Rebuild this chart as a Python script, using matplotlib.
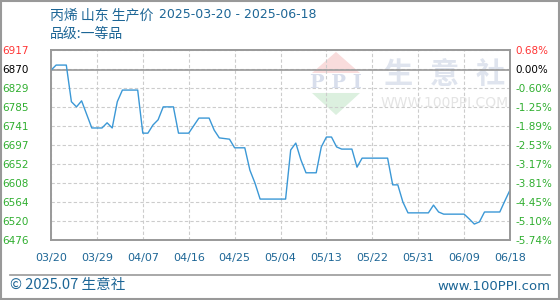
import matplotlib
matplotlib.use("Agg")
import matplotlib.pyplot as plt
from matplotlib.patches import Polygon, Rectangle
from matplotlib.lines import Line2D
import pandas as pd
import numpy as np

plt.rcParams['font.family'] = ['Noto Sans CJK SC', 'DejaVu Sans']

# price points (breakpoints of the line)
dates = ['2025-03-20', '2025-03-21', '2025-03-23', '2025-03-24', '2025-03-25', '2025-03-26',
         '2025-03-28', '2025-03-30', '2025-03-31', '2025-04-01', '2025-04-02', '2025-04-03',
         '2025-04-06', '2025-04-07', '2025-04-08', '2025-04-09', '2025-04-10', '2025-04-11',
         '2025-04-13', '2025-04-14', '2025-04-16', '2025-04-18', '2025-04-20', '2025-04-21',
         '2025-04-22', '2025-04-24', '2025-04-25', '2025-04-27', '2025-04-28', '2025-04-29',
         '2025-04-30', '2025-05-05', '2025-05-06', '2025-05-07', '2025-05-08', '2025-05-09',
         '2025-05-11', '2025-05-12', '2025-05-13', '2025-05-14', '2025-05-15', '2025-05-16',
         '2025-05-18', '2025-05-19', '2025-05-20', '2025-05-25', '2025-05-26', '2025-05-27',
         '2025-05-28', '2025-05-29', '2025-06-02', '2025-06-03', '2025-06-04', '2025-06-05',
         '2025-06-09', '2025-06-10', '2025-06-11', '2025-06-12', '2025-06-13', '2025-06-16',
         '2025-06-17', '2025-06-18']
prices = [6870, 6882, 6882, 6797, 6785, 6799,
          6736, 6736, 6748, 6736, 6797, 6824,
          6824, 6724, 6724, 6743, 6755, 6785,
          6785, 6724, 6724, 6759, 6759, 6731,
          6713, 6710, 6690, 6690, 6638, 6608,
          6571, 6571, 6685, 6701, 6662, 6632,
          6632, 6692, 6715, 6715, 6692, 6687,
          6687, 6645, 6666, 6666, 6604, 6604,
          6564, 6539, 6539, 6557, 6541, 6536,
          6536, 6525, 6513, 6518, 6541, 6541,
          6567, 6592]

base_price = 6870
y_labels = ['6917', '6870', '6829', '6785', '6741', '6697', '6652', '6608', '6564', '6520', '6476']
pct_labels = ['0.68%', '0.00%', '-0.60%', '-1.25%', '-1.89%', '-2.53%', '-3.17%',
              '-3.81%', '-4.45%', '-5.10%', '-5.74%']
x_labels = ['03/20', '03/29', '04/07', '04/16', '04/25', '05/04', '05/13', '05/22',
            '05/31', '06/09', '06/18']
x_start, x_end = '2025-03-20', '2025-06-18'
y_min, y_max = 6476, 6917

title = '丙烯 山东 生产价'
title_dates = '2025-03-20 - 2025-06-18'
subtitle = '品级:一等品'

blue = '#1d6696'
line_c = '#3b98d6'
red = '#ff3333'
green = '#2fae2f'
gray = '#999999'

fig = plt.figure(figsize=(5.6, 3.0), dpi=100)
ax = fig.add_axes([51 / 560, 60 / 300, 459 / 560, 190 / 300])

d = pd.to_datetime(dates)
ax.plot(d, prices, color=line_c, lw=1.0, zorder=3)

ax.set_xlim(pd.Timestamp(x_start), pd.Timestamp(x_end))
ax.set_ylim(y_min, y_max)

xt = pd.date_range(x_start, x_end, freq='9D')
ax.set_xticks(xt)
ax.set_xticklabels(x_labels, fontsize=8, color=blue, family='DejaVu Sans')

yt = np.linspace(y_min, y_max, len(y_labels))[::-1]
ax.set_yticks(yt)
ax.set_yticklabels(y_labels, fontsize=7.5, family='DejaVu Sans')
for i, lab in enumerate(ax.get_yticklabels()):
    lab.set_color(red if i == 0 else ('black' if i == 1 else green))
ax.tick_params(axis='y', length=0, pad=16)
ax.tick_params(axis='x', length=0, pad=9)

ax.grid(True, color='#cccccc', linestyle=(0, (3, 2)), linewidth=0.8)
ax.axhline(base_price, color=gray, lw=1.2, zorder=2)
for s in ax.spines.values():
    s.set_color(gray)
    s.set_linewidth(1.2)

ax2 = ax.twinx()
ax2.set_ylim(y_min, y_max)
ax2.set_yticks(yt)
ax2.set_yticklabels(pct_labels, fontsize=7.5, family='DejaVu Sans')
for i, lab in enumerate(ax2.get_yticklabels()):
    lab.set_color(red if i == 0 else ('black' if i == 1 else green))
ax2.tick_params(axis='y', length=0, pad=4)
for s in ax2.spines.values():
    s.set_color(gray)
    s.set_linewidth(1.2)

# watermark
ax.add_patch(Polygon([(0.5686, 0.8789), (0.6732, 0.8789), (0.6209, 0.99)], closed=True,
                     transform=ax.transAxes, color='#f9dcdc', zorder=1, lw=0))
ax.add_patch(Polygon([(0.5686, 0.7737), (0.6732, 0.7737), (0.6209, 0.6579)], closed=True,
                     transform=ax.transAxes, color='#dcf0df', zorder=1, lw=0))
ax.text(0.6209, 0.826, 'P P I', transform=ax.transAxes, ha='center', va='center',
        fontsize=14, family='DejaVu Serif', fontweight='bold', color='#d8deec', zorder=1)
for ch, xx in zip('生意社', [0.756, 0.858, 0.956]):
    ax.text(xx, 0.875, ch, transform=ax.transAxes, ha='center', va='center',
            fontsize=21, color='#dfe4ee', zorder=1, fontweight='bold')
ax.text(0.858, 0.72, 'WWW.100PPI.COM', transform=ax.transAxes, ha='center', va='center',
        fontsize=10, color='#e4e4e4', zorder=1, family='DejaVu Sans')

# titles
t1 = fig.text(50 / 560, 1 - 15 / 300, title, fontsize=10, color=blue, va='center', ha='left')
fig.text(0, 0, '')
ax.annotate(title_dates, xy=(1, 0.5), xycoords=t1, xytext=(4, 0), textcoords='offset points',
            fontsize=9, color=blue, va='center', ha='left', family='DejaVu Sans',
            annotation_clip=False)
fig.text(50 / 560, 1 - 34 / 300, subtitle, fontsize=10, color=blue, va='center', ha='left')

# footer
fig.add_artist(Line2D([10 / 560, 550 / 560], [1 - 275 / 300] * 2, color=gray, lw=1.2))
fig.text(10 / 560, 1 - 285 / 300, '© 2025.07 生意社', fontsize=10.5, color=blue, va='center', ha='left')
fig.text(550 / 560, 1 - 286 / 300, 'www.100PPI.com', fontsize=9.5, color=blue, va='center',
         ha='right', family='DejaVu Sans')
fig.add_artist(Rectangle((0.001, 0.002), 0.997, 0.996, transform=fig.transFigure,
                         fill=False, edgecolor=gray, lw=1.5))

fig.savefig('out.png', dpi=100)
